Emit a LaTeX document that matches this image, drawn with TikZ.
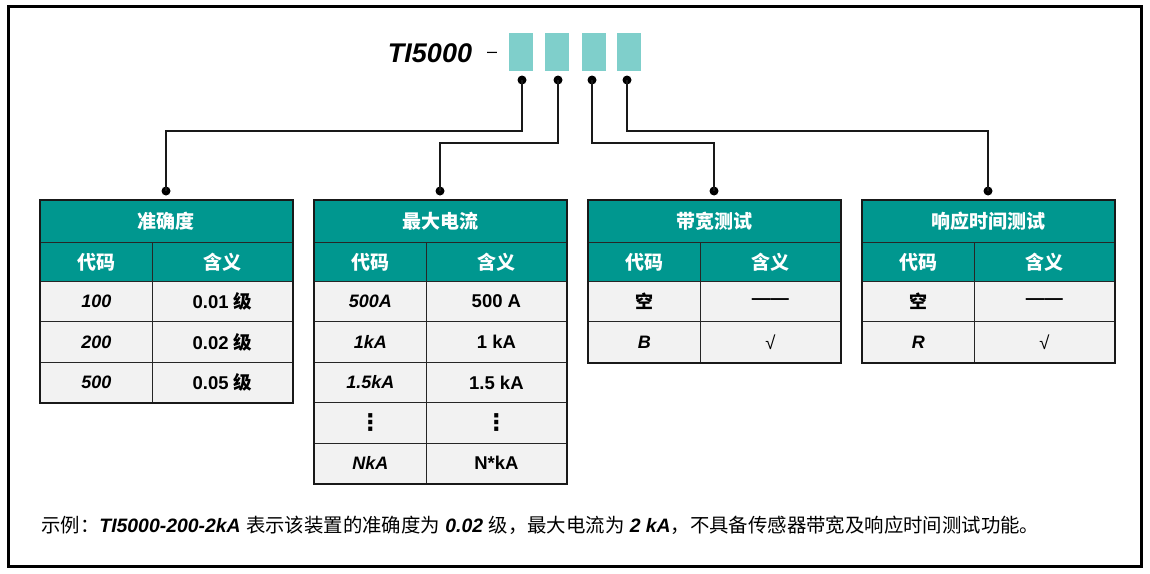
\documentclass[tikz,border=0pt]{standalone}
\usepackage{fontspec}
\setmainfont{Liberation Sans}
\newfontfamily\cjk{Noto Sans CJK SC}
\newfontfamily\djv{DejaVu Sans}
\definecolor{tealA}{HTML}{00978F}
\definecolor{sqc}{HTML}{7FCFCB}
\definecolor{rowc}{HTML}{F2F2F2}
\tikzset{
  ttl/.style={draw=black!85, line width=0.8pt, fill=tealA, text=white,
    font=\fontsize{19}{21}\selectfont\cjk\bfseries, minimum width=252,
    minimum height=42, inner sep=0, anchor=north west},
  hdr/.style={draw=black!85, line width=0.8pt, fill=tealA, text=white,
    font=\fontsize{19}{21}\selectfont\cjk\bfseries,
    minimum height=39, inner sep=0, anchor=north west},
  cellc/.style={draw=black!85, line width=0.8pt, fill=rowc,
    font=\fontsize{18}{20}\selectfont\bfseries\itshape, minimum width=112,
    minimum height=40.4, inner sep=0, anchor=north west},
  cellm/.style={draw=black!85, line width=0.8pt, fill=rowc,
    font=\fontsize{18.5}{20}\selectfont\bfseries, minimum width=140,
    minimum height=40.4, inner sep=0, anchor=north west},
  tframe/.style={line width=2.2pt, draw=black!90},
  conn/.style={line width=1.8pt, draw=black!90},
  dotc/.style={circle, fill=black, inner sep=0, minimum size=9},
  sqbox/.style={fill=sqc, minimum width=24, minimum height=38, inner sep=0}
}
\newcommand{\mktable}[5]{%
  \node[ttl] (#1t) at (#2,200) {#3};
  \node[hdr, minimum width=112] (#1ha) at (#2,242) {代码};
  \node[hdr, minimum width=140] (#1hb) at ({#2+112},242) {含义};
  \foreach \c/\m [count=\i] in {#4}{
    \node[cellc] (#1a\i) at (#2,{281+(\i-1)*40.4}) {\c};
    \node[cellm] (#1b\i) at ({#2+112},{281+(\i-1)*40.4}) {\m};
  }
  \draw[tframe] (#1t.north west) rectangle (#1b#5.south east);
}
\newcommand{\vdts}{{\djv\upshape\bfseries\fontsize{23}{24}\selectfont ⋮}}
\begin{document}
\begin{tikzpicture}[x=1pt,y=-1pt]
\useasboundingbox (0,0) rectangle (1150,573);
\draw[line width=3pt] (8,6) rectangle (1141,566);

% title
\node[font=\fontsize{27}{30}\selectfont\bfseries\itshape, inner sep=0] (tit) at (430,53) {TI5000};
\node[font=\fontsize{18}{20}\selectfont, inner sep=0] (dash) at (492,55) {–};
\node[sqbox] (sq1) at (521,52) {};
\node[sqbox] (sq2) at (557,52) {};
\node[sqbox] (sq3) at (593.5,52) {};
\node[sqbox] (sq4) at (629,52) {};

% tables
\mktable{A}{40}{准确度}{100/0.01 {\cjk 级}, 200/0.02 {\cjk 级}, 500/0.05 {\cjk 级}}{3}
\mktable{B}{314}{最大电流}{500A/500 A, 1kA/1 kA, 1.5kA/1.5 kA, \vdts/\vdts, NkA/N*kA}{5}
\mktable{C}{588}{带宽测试}{{\cjk 空}/——, B/{\mdseries √}}{2}
\mktable{D}{862}{响应时间测试}{{\cjk 空}/——, R/{\mdseries √}}{2}

% dots
\node[dotc] (u1) at (522,80) {};
\node[dotc] (u2) at (558,80) {};
\node[dotc] (u3) at (592,80) {};
\node[dotc] (u4) at (627,80) {};
\node[dotc] (l1) at (166,191) {};
\node[dotc] (l2) at (440,191) {};
\node[dotc] (l3) at (714,191) {};
\node[dotc] (l4) at (988,191) {};

% connectors
\draw[conn] (u1.center) -- ++(0,51) -| (l1.center);
\draw[conn] (u2.center) -- ++(0,63) -| (l2.center);
\draw[conn] (u3.center) -- ++(0,63) -| (l3.center);
\draw[conn] (u4.center) -- ++(0,51) -| (l4.center);

% example text
\node[anchor=west, inner sep=0, font=\fontsize{19.4}{22}\selectfont] (ex) at (41,525)
 {{\cjk 示例：}\textbf{\textit{TI5000-200-2kA}} {\cjk 表示该装置的准确度为} \textbf{\textit{0.02}} {\cjk 级，最大电流为} \textbf{\textit{2 kA}}{\cjk ，不具备传感器带宽及响应时间测试功能。}};
\end{tikzpicture}
\end{document}
